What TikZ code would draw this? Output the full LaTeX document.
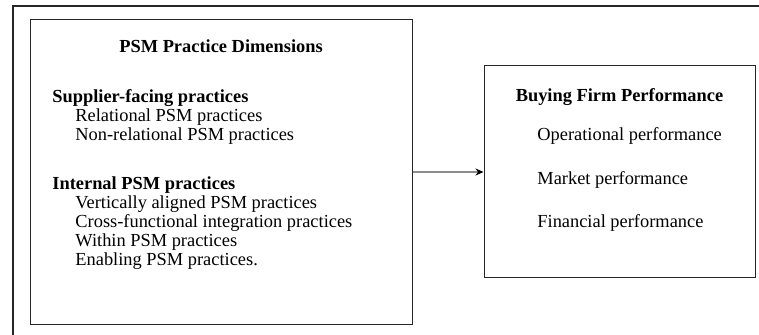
\documentclass[tikz,border=0pt]{standalone}
\usepackage{fontspec}
\setmainfont{Liberation Serif}
\usepackage{tikz}
\usetikzlibrary{arrows.meta,positioning,calc}
\tikzset{
  panel/.style    ={draw=black!85, line width=0.5pt, inner sep=0pt},
  headtext/.style ={font=\fontsize{9.2}{9.5}\selectfont\bfseries,
                    inner sep=0pt, anchor=base},
  grouptext/.style={headtext, anchor=base west},
  itemtext/.style ={font=\fontsize{9.2}{9.5}\selectfont,
                    inner sep=0pt, anchor=base west},
  link/.style     ={-{Stealth[length=4pt,width=3.5pt,black]},
                    draw=black!45, line width=0.6pt},
}

\begin{document}
\begin{tikzpicture}[x=0.5pt,y=-0.5pt]
  \useasboundingbox (0,0) rectangle (759,335);
  % outer frame, left and top only
  \coordinate (fbot) at (13,335);
  \coordinate (fend) at (759,6);
  \draw[line width=1.25pt, black!85] (fbot) |- (fend);
  % the two boxes
  \node[panel, minimum width=191pt, minimum height=152.5pt] (psm) at (221,172) {};
  \node[panel, minimum width=135.5pt, minimum height=106pt] (perf) at (619.5,172) {};
  \draw[link] (psm.east) -- (perf.west);
  % left box text
  \node[headtext] (psmhead) at (221,53) {PSM Practice Dimensions};
  \node[grouptext] (supp) at (52,103) {Supplier-facing practices};
  \node[itemtext] (rel) at (75,122) {Relational PSM practices};
  \node[itemtext] (nonrel) at (75,141) {Non-relational PSM practices};
  \node[grouptext] (intl) at (52,190) {Internal PSM practices};
  \node[itemtext] (vert) at (75,209) {Vertically aligned PSM practices};
  \node[itemtext] (cross) at (75,228) {Cross-functional integration practices};
  \node[itemtext] (within) at (75,247) {Within PSM practices};
  \node[itemtext] (enab) at (75,266) {Enabling PSM practices.};
  % right box text
  \node[headtext] (perfhead) at (619.5,102) {Buying Firm Performance};
  \node[itemtext] (oper) at (537,141) {Operational performance};
  \node[itemtext] (mkt) at (537,185) {Market performance};
  \node[itemtext] (fin) at (537,228) {Financial performance};
\end{tikzpicture}
\end{document}
